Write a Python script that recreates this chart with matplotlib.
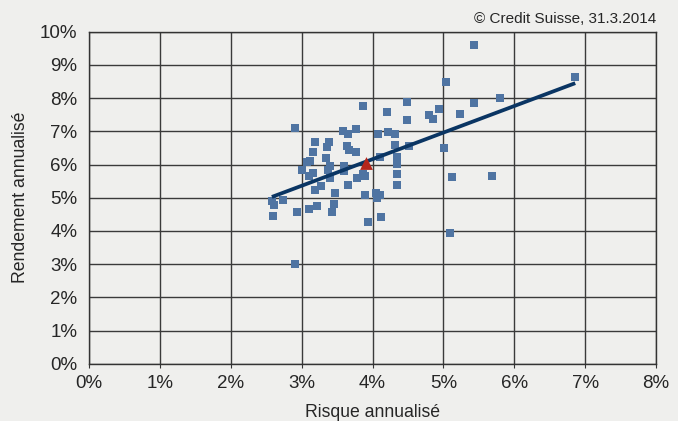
import matplotlib.pyplot as plt
import numpy as np
from matplotlib.ticker import FuncFormatter

# risque / rendement annualisés (%)
risque = [3.86, 4.20, 2.90, 3.59, 3.66, 3.76, 4.08, 4.22, 3.19, 3.38,
          3.36, 3.64, 3.67, 3.77, 3.16, 3.35, 3.12, 3.08, 3.40, 3.60,
          3.60, 3.37, 3.00, 3.16, 3.10, 3.40, 3.78, 3.86, 3.89, 4.10,
          3.66, 3.28, 3.19, 3.47, 3.90, 4.05, 4.10, 4.06, 2.74, 2.58,
          2.61, 3.45, 3.22, 3.11, 3.43, 2.94, 2.60, 4.12, 3.93, 2.91,
          5.43, 5.04, 4.49, 5.43, 5.80, 4.94, 4.79, 4.86, 4.49, 5.23,
          4.32, 4.32, 4.52, 5.01, 4.35, 4.35, 4.35, 4.35, 5.12, 5.69,
          5.10, 6.86]
rendement = [7.75, 7.58, 7.09, 7.01, 6.91, 7.07, 6.91, 6.99, 6.67, 6.67,
             6.54, 6.57, 6.44, 6.37, 6.37, 6.20, 6.11, 6.07, 5.96, 5.96,
             5.81, 5.84, 5.83, 5.74, 5.65, 5.58, 5.58, 5.71, 5.65, 6.22,
             5.37, 5.34, 5.22, 5.15, 5.07, 5.15, 5.08, 4.98, 4.93, 4.91,
             4.77, 4.80, 4.74, 4.65, 4.56, 4.56, 4.44, 4.43, 4.26, 2.99,
             9.59, 8.48, 7.88, 7.84, 7.99, 7.66, 7.48, 7.36, 7.33, 7.51,
             6.91, 6.58, 6.57, 6.49, 6.24, 6.02, 5.71, 5.37, 5.61, 5.65,
             3.93, 8.63]
portefeuille = (3.91, 6.05)

x_ticks = list(range(0, 9))
y_ticks = list(range(0, 11))

bg = '#efefed'
txt = '#262626'
plt.rcParams['font.family'] = ['Liberation Sans', 'DejaVu Sans']

fig = plt.figure(figsize=(6.78, 4.21), dpi=100, facecolor=bg)
ax = fig.add_axes([0.1313, 0.1361, 0.8363, 0.7886], facecolor=bg)

ax.scatter(risque, rendement, marker='s', s=37, color='#4f74a2', zorder=3, linewidths=0)

# droite de régression
pente, const = np.polyfit(risque, rendement, 1)
xs = np.array([min(risque), max(risque)])
ax.plot(xs, pente * xs + const, color='#0a3563', lw=2.7, zorder=4, solid_capstyle='butt')

ax.scatter([portefeuille[0]], [portefeuille[1]], marker='^', s=85, color='#b5261c', zorder=5, linewidths=0)

ax.set_xlim(0, 8)
ax.set_ylim(0, 10)
ax.set_xticks(x_ticks)
ax.set_yticks(y_ticks)
pct = FuncFormatter(lambda v, p: '%d%%' % v)
ax.xaxis.set_major_formatter(pct)
ax.yaxis.set_major_formatter(pct)
ax.grid(True, color='#3a3a3a', lw=1.0, zorder=0)
ax.set_axisbelow(True)
for s in ax.spines.values():
    s.set_color('#333333')
    s.set_linewidth(1.0)
ax.tick_params(axis='x', length=3, color='#333333', labelsize=13.5, pad=5, labelcolor=txt)
ax.tick_params(axis='y', length=0, labelsize=13.5, pad=8.5, labelcolor=txt)

ax.set_xlabel('Risque annualisé', fontsize=12.7, color=txt, va='center')
ax.xaxis.set_label_coords(0.5, -0.147)
ax.set_ylabel('Rendement annualisé', fontsize=12.7, color=txt, va='center')
ax.yaxis.set_label_coords(-0.1208, 0.5)

fig.text(0.9676, 0.9537, '© Credit Suisse, 31.3.2014', ha='right', va='center', fontsize=11, color=txt)

fig.savefig('out.png', dpi=100, facecolor=bg)
